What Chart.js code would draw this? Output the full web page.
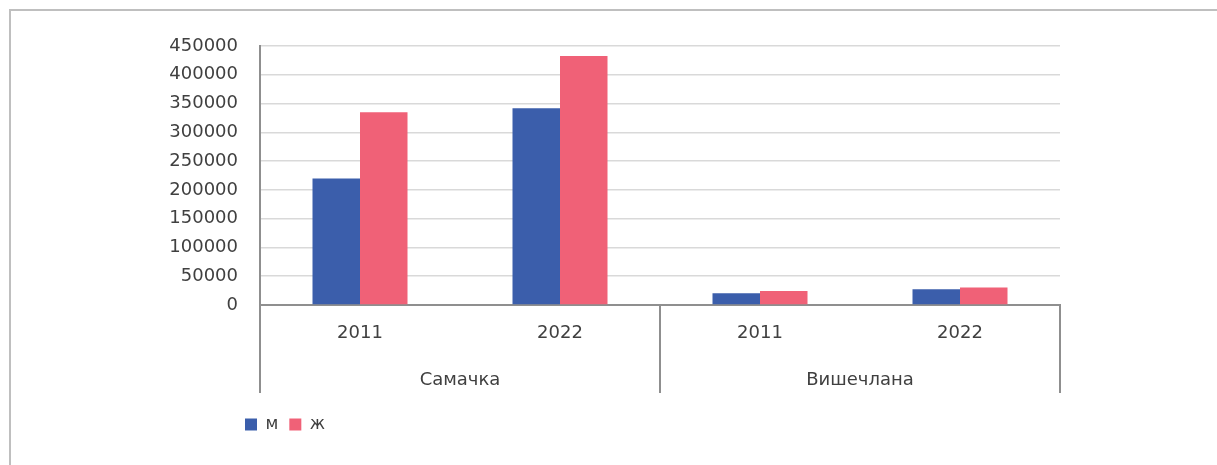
<!DOCTYPE html>
<html>
<head>
<meta charset="utf-8">
<script src="https://cdn.jsdelivr.net/npm/chart.js@4.4.1/dist/chart.umd.min.js"></script>
<style>
  html, body { margin: 0; padding: 0; background: #fff; overflow: hidden; }
  canvas { display: block; }
</style>
</head>
<body>
<canvas id="c" width="1217" height="465"></canvas>
<script>
// ---- data ----
const groups = ['Самачка', 'Вишечлана'];
const groupSizes = [2, 2];
const years = ['2011', '2022', '2011', '2022'];
const seriesNames = ['м', 'ж'];
const male = [220000, 342000, 20500, 27500];
const female = [335000, 432500, 24500, 30500];
const yTicksMax = 450000;
const yTickStep = 50000;

const FONT = 'DejaVu Sans';
const TXT = '#404040';
const AXIS = '#8f8f8f';
const GROUP_LABEL_H = 30;

const frame = {
  id: 'frame',
  beforeDraw(chart) {
    const ctx = chart.ctx;
    ctx.save();
    ctx.strokeStyle = '#bfbfbf';
    ctx.lineWidth = 2;
    ctx.beginPath();
    ctx.moveTo(10, chart.height + 5);
    ctx.lineTo(10, 10);
    ctx.lineTo(chart.width + 5, 10);
    ctx.stroke();
    ctx.restore();
  }
};

const groupLines = {
  id: 'groupLines',
  afterDraw(chart) {
    const xs = chart.scales.x, x2 = chart.scales.x2;
    const ctx = chart.ctx;
    const bounds = [chart.chartArea.left];
    let idx = 0;
    groupSizes.forEach((n, gi) => {
      idx += n;
      if (gi < groupSizes.length - 1) {
        bounds.push((xs.getPixelForValue(idx - 1) + xs.getPixelForValue(idx)) / 2);
      }
    });
    bounds.push(chart.chartArea.right);
    ctx.save();
    ctx.strokeStyle = AXIS;
    ctx.lineWidth = 2;
    bounds.forEach(b => {
      ctx.beginPath();
      ctx.moveTo(b, chart.chartArea.bottom);
      ctx.lineTo(b, x2.top + GROUP_LABEL_H);
      ctx.stroke();
    });
    ctx.restore();
  }
};

const legendShift = {
  id: 'legendShift',
  afterLayout(chart) {
    const lg = chart.legend;
    const d = chart.chartArea.left - 15 - 11 - lg.left;
    lg.left += d; lg.right += d;
  }
};

new Chart(document.getElementById('c'), {
  type: 'bar',
  data: {
    labels: years,
    datasets: [
      { label: seriesNames[0], data: male, backgroundColor: '#3B5EAB', borderWidth: 0 },
      { label: seriesNames[1], data: female, backgroundColor: '#F06177', borderWidth: 0 }
    ]
  },
  options: {
    responsive: false,
    animation: false,
    devicePixelRatio: 1,
    layout: { padding: { left: 170, right: 157, top: 46, bottom: 22 } },
    datasets: { bar: { barPercentage: 1, categoryPercentage: 0.475 } },
    plugins: {
      tooltip: { enabled: false },
      legend: {
        position: 'bottom',
        align: 'start',
        labels: {
          boxWidth: 12, boxHeight: 12, padding: 11,
          color: TXT, font: { family: FONT, size: 17 }
        }
      }
    },
    scales: {
      x: {
        type: 'category',
        position: 'bottom',
        weight: 0,
        grid: { display: false, drawTicks: false },
        border: { display: true, color: AXIS, width: 2 },
        ticks: { color: TXT, font: { family: FONT, size: 18 }, padding: 18, maxRotation: 0 },
        afterFit(s) { s.height = 58; }
      },
      x2: {
        type: 'category',
        position: 'bottom',
        weight: 1,
        labels: groups,
        grid: { display: false, drawTicks: false },
        border: { display: false },
        ticks: { color: TXT, font: { family: FONT, size: 18 }, padding: 7, maxRotation: 0 },
        afterFit(s) { s.height = 42; }
      },
      y: {
        min: 0, max: yTicksMax,
        grid: { color: '#d9d9d9', lineWidth: 1.5, drawTicks: false },
        border: { display: true, color: AXIS, width: 2 },
        ticks: {
          stepSize: yTickStep, color: TXT, font: { family: FONT, size: 18 }, padding: 22,
          callback: v => String(v)
        },
        afterFit(s) { s.width = 90; }
      }
    }
  },
  plugins: [frame, groupLines, legendShift]
});
</script>
</body>
</html>
